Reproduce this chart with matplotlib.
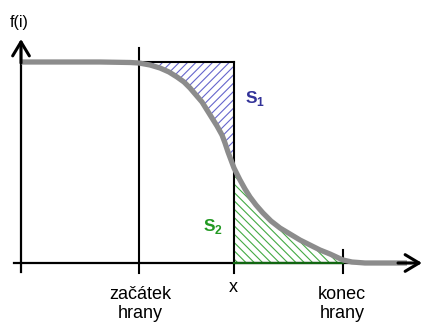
import numpy as np
import matplotlib.pyplot as plt

# edge profile f(i) sampled along i
i_vals = np.array([21, 60, 100, 130, 139, 150, 160, 169, 177, 184, 190, 196, 202,
                   207, 212, 217, 222, 225, 228, 231, 234, 237, 240, 245, 250,
                   256, 263, 271, 280, 290, 300, 310, 320, 330, 343, 352, 365, 385, 407])
f_vals = np.array([201, 201, 201, 200.5, 200, 198, 195, 191, 186, 181, 175, 168, 161,
                   153, 145, 137, 128, 120, 111, 103, 95, 89, 83, 74, 66,
                   58, 50, 42, 35, 29, 23, 18, 13, 9, 3, 1, 0, 0, 0])

i_start = 139   # začátek hrany
i_x = 234       # x
i_end = 343     # konec hrany
f_top = 201

plt.rcParams['font.family'] = ['Liberation Sans', 'DejaVu Sans']
plt.rcParams['hatch.linewidth'] = 0.8

fig = plt.figure(figsize=(4.23, 3.25), dpi=100)
ax = fig.add_axes([0, 0, 1, 1])
ax.set_xlim(0, 423)
ax.set_ylim(-62, 263)
ax.axis('off')

# hatched areas S1 and S2
m1 = (i_vals >= i_start) & (i_vals <= i_x)
ax.fill_between(i_vals[m1], f_vals[m1], f_top, facecolor='none',
                edgecolor='#6666cc', linewidth=0, hatch='////')
m2 = (i_vals >= i_x) & (i_vals <= i_end)
ax.fill_between(i_vals[m2], 0, f_vals[m2], facecolor='none',
                edgecolor='#44aa44', linewidth=0, hatch='\\\\\\\\')

# axes with open arrow heads
head = '->,head_width=0.6,head_length=1.0'
ax.plot([21, 21], [-9, 215], color='black', lw=1.6)
ax.annotate('', xy=(21, 224), xytext=(21, 200),
            arrowprops=dict(arrowstyle=head, color='black', lw=2.2,
                            shrinkA=0, shrinkB=0))
ax.plot([14, 410], [0, 0], color='black', lw=1.6)
ax.annotate('', xy=(422, 0), xytext=(398, 0),
            arrowprops=dict(arrowstyle=head, color='black', lw=2.2,
                            shrinkA=0, shrinkB=0))

# vertical guides and box top
ax.plot([i_start, i_start], [215, -10], color='black', lw=1.5)
ax.plot([i_x, i_x], [f_top, -10], color='black', lw=1.5)
ax.plot([i_start, i_x], [f_top, f_top], color='black', lw=1.5)
ax.plot([i_end, i_end], [13, -10], color='black', lw=1.5)
ax.plot([i_x, i_end], [0, 0], color='#116611', lw=1.6)

# the edge profile itself
ax.plot(i_vals, f_vals, color='#8c8c8c', lw=3.8, solid_capstyle='butt',
        solid_joinstyle='round')

ax.text(19, 241, 'f(i)', fontsize=11.5, ha='center', va='center')
ax.text(245, 165, 'S$_\\mathregular{1}$', fontsize=12.5, color='#333399',
        fontweight='bold', ha='left', va='center')
ax.text(203, 36, 'S$_\\mathregular{2}$', fontsize=12.5, color='#229922',
        fontweight='bold', ha='left', va='center')
ax.text(i_start + 1, -41, 'začátek\nhrany', fontsize=13, ha='center',
        va='center', linespacing=1.15)
ax.text(i_x - 1, -25, 'x', fontsize=13, ha='center', va='center')
ax.text(i_end - 1, -41, 'konec\nhrany', fontsize=13, ha='center',
        va='center', linespacing=1.15)

fig.savefig('out.png', dpi=100)
